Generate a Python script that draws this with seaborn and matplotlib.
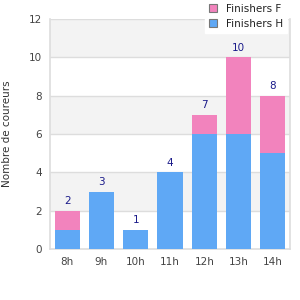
import matplotlib
matplotlib.use("Agg")
import matplotlib.pyplot as plt
import seaborn as sns
import pandas as pd
from matplotlib.patches import Patch

categories = ["8h", "9h", "10h", "11h", "12h", "13h", "14h"]
finishers_h = [1, 3, 1, 4, 6, 6, 5]
finishers_f = [1, 0, 0, 0, 1, 4, 3]
totals = [h + f for h, f in zip(finishers_h, finishers_f)]

blue = "#5fa8f5"
pink = "#f283bd"

sns.set_theme(style="white")
plt.rcParams["font.family"] = ["DejaVu Sans"]

df = pd.DataFrame({"heure": categories, "H": finishers_h, "F": finishers_f, "total": totals})

fig = plt.figure(figsize=(3, 3), dpi=100)
ax = fig.add_axes([50/300, 51/300, 240/300, 230/300])

for lo in (2, 6, 10):
    ax.axhspan(lo, lo + 2, color="#f3f3f3", zorder=0, lw=0)
for y in range(2, 13, 2):
    ax.axhline(y, color="#dddddd", lw=1, zorder=0.5)

sns.barplot(data=df, x="heure", y="total", color=pink, width=0.73, ax=ax,
            saturation=1, zorder=2, edgecolor="none")
sns.barplot(data=df, x="heure", y="H", color=blue, width=0.73, ax=ax,
            saturation=1, zorder=3, edgecolor="none")

for i, t in enumerate(totals):
    ax.text(i, t + 0.25, str(t), ha="center", va="bottom", fontsize=7.5,
            color="#1a1a8a", zorder=4)

ax.set_ylim(0, 12)
ax.set_xlim(-0.5, 6.5)
ax.set_yticks(range(0, 13, 2))
ax.set_xlabel("")
ax.set_ylabel("Nombre de coureurs", fontsize=7.5, color="#333333", labelpad=12)
ax.tick_params(axis="both", labelsize=7.5, colors="#444444", length=0, pad=6)

ax.spines["top"].set_visible(False)
for s in ("left", "right", "bottom"):
    ax.spines[s].set_color("#dddddd")
    ax.spines[s].set_linewidth(1.2)

handles = [Patch(facecolor=pink, edgecolor="#777777", lw=0.8, label="Finishers F"),
           Patch(facecolor=blue, edgecolor="#777777", lw=0.8, label="Finishers H")]
leg = fig.legend(handles=handles, loc="upper left", bbox_to_anchor=(205/300, 1.0),
                 frameon=True, fontsize=7.5, handlelength=0.8, handleheight=0.8,
                 handletextpad=0.9, borderpad=0.35, labelspacing=0.5, fancybox=False,
                 borderaxespad=0)
leg.get_frame().set_facecolor("white")
leg.get_frame().set_edgecolor("white")
leg.get_frame().set_alpha(1)
leg.set_zorder(10)
for t in leg.get_texts():
    t.set_color("#222222")

fig.savefig("out.png", dpi=100)
